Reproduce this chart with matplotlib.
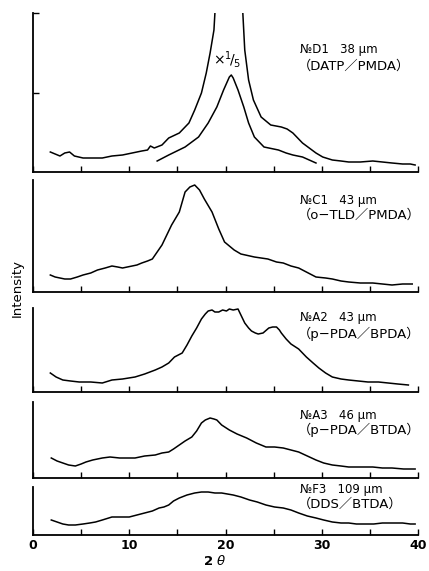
import matplotlib
matplotlib.use("Agg")
import matplotlib.pyplot as plt

# 2theta (deg) and intensity (arb. units) read for each film
d1_tt = [1.8, 2.3, 2.8, 3.3, 3.8, 4.3, 5.2, 6.2, 7.2, 8.2, 9.3, 10.3, 11.3, 11.9, 12.2, 12.6,
         13.4, 14.1, 15.2, 16.2, 16.8, 17.5, 18.0, 18.4, 18.8, 18.9, 20.4, 21.8, 22.0, 22.4,
         22.9, 23.7, 24.7, 25.8, 26.4, 27.0, 27.5, 28.0, 28.7, 29.4, 30.1, 31.1, 32.0, 32.8,
         34.0, 35.3, 36.3, 37.3, 38.4, 39.2, 39.7]
d1_int = [20, 18, 16, 19, 20, 16, 14, 14, 14, 16, 17, 19, 21, 22, 26, 24,
          27, 34, 39, 49, 62, 79, 99, 119, 142, 159, 445, 159, 122, 92,
          72, 55, 47, 45, 43, 39, 34, 29, 24, 19, 15, 12, 11, 10,
          10, 11, 10, 9, 8, 8, 7]

# same film, scaled down by 1/5
d1s_tt = [12.9, 14.1, 15.8, 17.2, 18.2, 19.1, 19.8, 20.4, 20.6, 20.8, 21.3, 21.9, 22.4, 23.0,
          24.0, 25.5, 26.3, 27.0, 28.0, 28.7, 29.4]
d1s_int = [11, 17, 25, 35, 49, 65, 82, 95, 97, 94, 82, 65, 49, 35,
           25, 22, 19, 17, 15, 12, 9]

c1_tt = [1.8, 2.3, 2.8, 3.3, 3.9, 4.6, 5.2, 6.0, 6.7, 7.5, 8.2, 8.8, 9.3, 9.8, 10.3, 10.8,
         11.3, 11.9, 12.4, 12.9, 13.4, 13.9, 14.4, 15.2, 15.8, 16.3, 16.8, 17.3, 17.8, 18.6,
         19.3, 19.9, 20.9, 21.6, 23.0, 24.4, 25.3, 26.0, 26.8, 27.6, 28.4, 29.4, 30.4, 31.1,
         32.0, 32.8, 34.0, 35.3, 36.3, 37.3, 38.4, 39.4]
c1_int = [17, 15, 14, 13, 13, 15, 17, 19, 22, 24, 26, 25, 24, 25, 26, 27,
          29, 31, 33, 40, 47, 57, 67, 80, 100, 105, 107, 102, 93, 80,
          63, 50, 42, 38, 35, 33, 30, 29, 26, 24, 20, 15, 14, 13,
          11, 10, 9, 9, 8, 7, 8, 8]

a2_tt = [1.8, 2.4, 3.1, 3.9, 4.8, 6.0, 7.2, 8.2, 9.3, 10.6, 11.6, 12.7, 13.4, 14.1, 14.7,
         15.5, 16.0, 16.5, 17.0, 17.5, 17.9, 18.2, 18.6, 18.9, 19.3, 19.7, 20.1, 20.4, 20.8,
         21.3, 21.6, 22.0, 22.4, 22.7, 23.1, 23.4, 23.9, 24.5, 24.9, 25.3, 25.6, 25.8, 26.3,
         26.8, 27.6, 28.4, 29.1, 29.7, 30.4, 31.1, 32.0, 32.8, 33.8, 34.8, 35.9, 36.9, 37.9,
         39.0]
a2_int = [19, 15, 12, 11, 10, 10, 9, 12, 13, 15, 18, 22, 25, 29, 35,
          39, 47, 56, 64, 73, 78, 81, 82, 80, 80, 82, 81, 83, 82,
          83, 77, 69, 64, 61, 59, 58, 59, 64, 65, 65, 62, 59, 53,
          48, 43, 35, 29, 24, 19, 15, 13, 12, 11, 10, 10, 9, 8,
          7]

a3_tt = [1.9, 2.5, 3.1, 3.7, 4.4, 5.0, 5.5, 6.2, 7.2, 8.0, 9.0, 9.8, 10.6, 11.6, 12.7, 13.4,
         14.1, 14.6, 15.2, 15.8, 16.5, 17.0, 17.5, 17.9, 18.4, 18.8, 19.1, 19.6, 20.4, 21.2,
         22.2, 23.2, 24.2, 25.1, 26.0, 26.8, 27.6, 28.5, 29.4, 30.2, 31.1, 32.0, 32.8, 34.0,
         35.3, 36.3, 37.3, 38.5, 39.7]
a3_int = [20, 17, 15, 13, 12, 14, 16, 18, 20, 21, 20, 20, 20, 22, 23, 25,
          26, 29, 33, 37, 41, 47, 55, 58, 60, 59, 58, 53, 48, 44,
          40, 35, 31, 31, 30, 28, 26, 22, 18, 15, 13, 12, 11, 11,
          11, 10, 10, 9, 9]

f3_tt = [1.9, 2.5, 3.1, 3.7, 4.4, 5.2, 5.9, 6.5, 7.2, 8.2, 9.1, 10.0, 10.8, 11.6, 12.4, 13.1,
         13.6, 14.1, 14.6, 15.2, 16.0, 16.8, 17.5, 18.2, 18.9, 19.6, 20.2, 20.8, 21.6, 22.5,
         23.3, 24.2, 25.1, 26.0, 26.8, 27.6, 28.5, 29.4, 30.2, 31.1, 32.0, 32.8, 33.6, 34.5,
         35.4, 36.3, 37.3, 38.4, 39.2, 39.7]
f3_int = [15, 13, 11, 10, 10, 11, 12, 13, 15, 18, 18, 18, 20, 22, 24, 27,
          28, 30, 34, 37, 40, 42, 43, 43, 42, 42, 41, 40, 38, 35,
          33, 30, 28, 27, 25, 22, 19, 17, 15, 13, 12, 12, 11, 11,
          11, 12, 12, 12, 11, 11]

sample_names = ["№D1   38 μm", "№C1   43 μm", "№A2   43 μm", "№A3   46 μm", "№F3   109 μm"]
sample_comps = ["（DATP／PMDA）", "（o−TLD／PMDA）", "（p−PDA／BPDA）",
                "（p−PDA／BTDA）", "（DDS／BTDA）"]
y_tops = [159, 112, 84, 76, 48]

W, H = 429, 571
fig = plt.figure(figsize=(W / 100, H / 100), dpi=100)
fam = ["DejaVu Sans", "Noto Sans CJK JP"]

# panel boxes in pixels: (top, bottom)
boxes = [(13, 172), (180, 292), (308, 392), (402, 478), (487, 535)]
x0, x1 = 33, 418
series = [[(d1_tt, d1_int), (d1s_tt, d1s_int)],
          [(c1_tt, c1_int)],
          [(a2_tt, a2_int)],
          [(a3_tt, a3_int)],
          [(f3_tt, f3_int)]]
label_y = [(50, 66), (200, 215), (318, 334), (415, 430), (489, 504)]

axes = []
for i, (top, bot) in enumerate(boxes):
    ax = fig.add_axes([x0 / W, 1 - bot / H, (x1 - x0) / W, (bot - top) / H])
    for tt, inten in series[i]:
        ax.plot(tt, inten, color="black", lw=1.1)
    ax.set_xlim(0, 40)
    ax.set_ylim(0, y_tops[i])
    ax.spines["top"].set_visible(False)
    ax.spines["right"].set_visible(False)
    ax.spines["left"].set_linewidth(1.3)
    ax.spines["bottom"].set_linewidth(1.3)
    ax.set_xticks(range(0, 41, 5))
    ax.tick_params(axis="x", direction="in", length=4, width=1, pad=3)
    if i == 0:
        ax.set_yticks([y_tops[0] / 2, y_tops[0]])
        ax.tick_params(axis="y", direction="in", length=4, width=1)
        ax.set_yticklabels([])
    else:
        ax.set_yticks([])
    if i == len(boxes) - 1:
        ax.set_xticklabels(["0", "", "10", "", "20", "", "30", "", "40"],
                           fontsize=9, fontweight="bold")
    else:
        ax.set_xticklabels([])
    ax.patch.set_alpha(0)
    fig.text(300 / W, 1 - label_y[i][0] / H, sample_names[i], family=fam,
             fontsize=8.5, ha="left", va="center")
    fig.text(298 / W, 1 - label_y[i][1] / H, sample_comps[i], family=fam,
             fontsize=9.5, ha="left", va="center")
    axes.append(ax)

axes[0].text(20.2, 113, r"$\times^{1}\!/_{5}$", fontsize=10, ha="center", va="center")

fig.text(17 / W, 1 - 288 / H, "Intensity", rotation=90, fontsize=9.5,
         ha="center", va="center")
fig.text(215 / W, 1 - 561 / H, r"2 $\theta$", fontsize=9.5, fontweight="bold",
         ha="center", va="center")

fig.savefig("out.png", dpi=100)
